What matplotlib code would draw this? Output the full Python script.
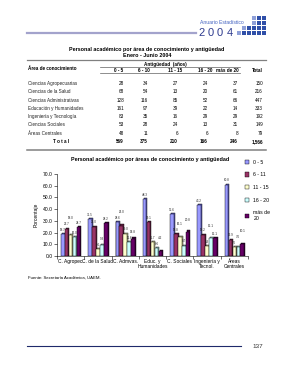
import numpy as np
import matplotlib.pyplot as plt
from matplotlib.patches import Rectangle
from matplotlib.lines import Line2D

plt.rcParams['font.family'] = ['Liberation Sans', 'DejaVu Sans']

# ---------------- datos de la tabla (orden de la tabla) ----------------
areas_tabla = ["Ciencias Agropecuarias", "Ciencias de la Salud",
               "Ciencias Administrativas", "Educación y Humanidades",
               "Ingeniería y Tecnología", "Ciencias Sociales", "Áreas Centrales"]
rangos_tabla = ["0 - 5", "6 - 10", "11 - 15", "16 - 20", "más de 20"]
antig_0_5 = [28, 68, 128, 161, 83, 53, 48]
antig_6_10 = [34, 54, 116, 97, 35, 28, 11]
antig_11_15 = [27, 13, 85, 39, 16, 24, 6]
antig_16_20 = [24, 20, 52, 22, 29, 13, 6]
antig_mas_20 = [37, 61, 66, 14, 29, 31, 8]

# ---------------- datos de la gráfica (porcentajes) ----------------
areas_graf = ["C. Agropec.", "C. de la Salud", "C. Admvas.", "Educ. y\nHumanidades",
              "C. Sociales", "Ingeniería y\nTecnol.", "Áreas\nCentrales"]
leyenda = ["0 - 5", "6 - 11", "11 - 15", "16 - 20", "más de\n20"]
pct_0_5 = [18.7, 31.5, 28.6, 48.3, 35.6, 43.2, 60.8]
pct_6_10 = [22.7, 25.0, 26.0, 29.1, 18.8, 18.2, 13.9]
pct_11_15 = [18.0, 6.0, 19.0, 11.7, 16.1, 8.3, 7.6]
pct_16_20 = [16.0, 9.3, 11.6, 6.6, 8.7, 15.1, 7.6]
pct_mas_20 = [24.7, 28.2, 14.8, 4.2, 20.8, 15.1, 10.1]

colores = ["#9999FF", "#993366", "#FFFFCC", "#CCFFFF", "#660066"]
lados = ["#5c5cb8", "#5e1f40", "#b8b88a", "#8ab8b8", "#3a003a"]

W, H = 293, 380


def fx(x):
    return x / W


def fy(y):
    return 1 - y / H


fig = plt.figure(figsize=(W / 100, H / 100), dpi=100)

# ---------------- encabezado ----------------
fig.add_artist(Line2D([fx(27), fx(196)], [fy(33), fy(33)], color="#a3a3cc", lw=1.6))
fig.text(fx(200), fy(23), "Anuario Estadístico", fontsize=3.6, color="#4060c0",
         ha="left", va="center")
for xd, d in zip([198, 207.5, 217, 226.5], "2004"):
    fig.text(fx(xd), fy(33), d, fontsize=8, color="#2e3b8f", ha="left", va="center")
filas_logo = [(16, 3), (21, 3), (26, 1), (31, 0)]
for yy, c0 in filas_logo:
    for c in range(c0, 6):
        col = "#8fa0d8" if c == c0 else "#2f4fa8"
        fig.add_artist(Rectangle((fx(237 + 5 * c), fy(yy + 4)), 4 / W, 4 / H,
                                 transform=fig.transFigure, color=col, lw=0))

fig.text(fx(147), fy(49), "Personal académico por área de conocimiento y antigüedad",
         fontsize=3.9, fontweight="bold", ha="center", va="center")
fig.text(fx(147), fy(55.5), "Enero - Junio 2004", fontsize=3.9, fontweight="bold",
         ha="center", va="center")

# ---------------- tabla ----------------
fig.add_artist(Line2D([fx(27), fx(266)], [fy(60), fy(60)], color="#808080", lw=0.9))
fig.add_artist(Line2D([fx(100), fx(240)], [fy(67), fy(67)], color="#606060", lw=0.5))
fig.add_artist(Line2D([fx(100), fx(240)], [fy(73), fy(73)], color="#606060", lw=0.5))
fig.add_artist(Line2D([fx(27), fx(266)], [fy(150), fy(150)], color="#808080", lw=1.1))

fs_t = 3.3
fig.text(fx(28), fy(68), "Área de conocimiento", fontsize=fs_t, fontweight="bold",
         ha="left", va="center")
fig.text(fx(165), fy(64.5), "Antigüedad  (años)", fontsize=fs_t, fontweight="bold",
         ha="center", va="center")
fig.text(fx(263), fy(70.5), "Total", fontsize=fs_t, fontweight="bold",
         ha="right", va="center")

x_cols = [124, 148, 178, 208, 238]
x_head = [119, 144, 175, 205, 227]
for xh, r in zip(x_head, rangos_tabla):
    fig.text(fx(xh), fy(70), r, fontsize=fs_t, fontweight="bold", ha="center", va="center")

columnas = [antig_0_5, antig_6_10, antig_11_15, antig_16_20, antig_mas_20]
y_filas = [83.3, 91.7, 100, 108.3, 116.7, 125, 133.3]
for i, area in enumerate(areas_tabla):
    y = y_filas[i]
    fig.text(fx(28), fy(y), area, fontsize=fs_t, ha="left", va="center", color="#222")
    fila = [col[i] for col in columnas]
    for xc, v in zip(x_cols, fila):
        fig.text(fx(xc), fy(y), f"{v:,}", fontsize=fs_t, ha="right", va="center")
    fig.text(fx(263), fy(y), f"{sum(fila):,}", fontsize=fs_t, ha="right", va="center")

y_tot = 141.5
fig.text(fx(61), fy(y_tot), "T o t a l", fontsize=fs_t, fontweight="bold",
         ha="center", va="center")
for xc, col in zip(x_cols, columnas):
    fig.text(fx(xc), fy(y_tot), f"{sum(col):,}", fontsize=fs_t, fontweight="bold",
             ha="right", va="center")
fig.text(fx(263), fy(y_tot), f"{sum(sum(c) for c in columnas):,}", fontsize=fs_t,
         fontweight="bold", ha="right", va="center")

# ---------------- gráfica ----------------
fig.text(fx(150), fy(160), "Personal académico por áreas de conocimiento y antigüedad",
         fontsize=3.9, fontweight="bold", ha="center", va="center")

ax = fig.add_axes([fx(57), fy(256), (248 - 57) / W, (256 - 174) / H])
series = [pct_0_5, pct_6_10, pct_11_15, pct_16_20, pct_mas_20]
x = np.arange(len(areas_graf))
w = 0.13
for k, vals in enumerate(series):
    pos = x + (k - 2) * 0.145
    # cara lateral para simular el 3D
    ax.bar(pos + 0.035, np.array(vals) + 1.0, width=w, color=lados[k],
           edgecolor="black", lw=0.3, zorder=2 + k * 2)
    ax.bar(pos, vals, width=w, color=colores[k], edgecolor="black", lw=0.3,
           zorder=3 + k * 2, label=leyenda[k])

# etiquetas: se suben si chocan con la etiqueta vecina
for i in range(len(areas_graf)):
    puestas = []
    for k, vals in enumerate(series):
        yl = vals[i] + 2.0
        for kk, yy in puestas[-2:]:
            sep = 5.0 if k - kk == 1 else 3.5
            if abs(yl - yy) < sep:
                yl = yy + sep
        puestas.append((k, yl))
        ax.text(x[i] + (k - 2) * 0.145, yl, f"{vals[i]:.1f}", fontsize=2.2,
                ha="center", va="bottom", color="#222", zorder=20)

ax.set_xlim(-0.5, len(areas_graf) - 0.5)
ax.set_ylim(0, 70)
ax.set_yticks(np.arange(0, 71, 10))
ax.set_yticklabels([f"{t:.1f}" for t in np.arange(0, 71, 10)], fontsize=3.6)
ax.set_xticks(x)
ax.set_xticklabels(areas_graf, fontsize=3.5, linespacing=1.1)
ax.set_xticks(np.arange(-0.5, len(areas_graf), 1), minor=True)
ax.tick_params(axis="x", which="major", length=0, pad=2)
ax.tick_params(axis="x", which="minor", length=2, width=0.4)
ax.tick_params(axis="y", length=2, width=0.4, pad=1)
for s in ["top", "right"]:
    ax.spines[s].set_visible(False)
for s in ["left", "bottom"]:
    ax.spines[s].set_linewidth(0.4)
ax.set_ylabel("Porcentaje", fontsize=3.6, labelpad=3)
ax.patch.set_alpha(0)

fig.legend(*ax.get_legend_handles_labels(), loc="upper left",
           bbox_to_anchor=(fx(242), fy(157)), fontsize=3.7, frameon=False,
           handlelength=0.9, handleheight=0.9, labelspacing=1.5, handletextpad=0.8,
           borderpad=0)

fig.text(fx(28), fy(278), "Fuente: Secretaría Académica, UAEM.", fontsize=3.1,
         ha="left", va="center")

# ---------------- pie de página ----------------
fig.add_artist(Line2D([fx(27), fx(241)], [fy(346), fy(346)], color="#1f2a6b", lw=0.8))
fig.text(fx(258), fy(346), "137", fontsize=4.6, color="#333", ha="center", va="center")

fig.savefig("out.png", dpi=100)
